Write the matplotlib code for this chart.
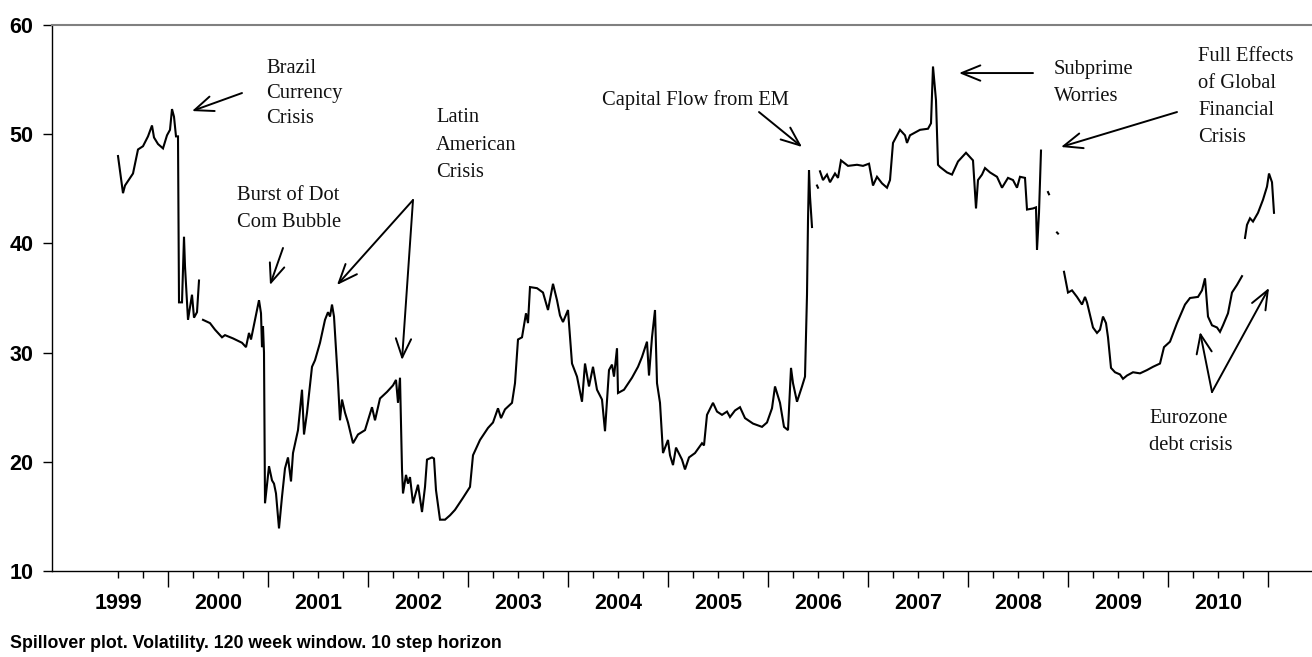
import numpy as np
import matplotlib
matplotlib.use("Agg")
import matplotlib.pyplot as plt
import matplotlib.transforms as mtransforms
from matplotlib import font_manager

nan = np.nan

# weekly spillover index (decimal year, value); nan = gap in the series
dates = [
    1999.50, 1999.55, 1999.57, 1999.65, 1999.70, 1999.75, 1999.80, 1999.84, 1999.86, 1999.90,
    1999.95, 1999.99, 2000.02, 2000.04, 2000.06, 2000.08, 2000.10, 2000.11, 2000.14, 2000.16,
    2000.17, 2000.20, 2000.24, 2000.26, 2000.29, 2000.31, 2000.33,
    2000.35, 2000.42, 2000.47, 2000.54, 2000.57, 2000.65, 2000.74, 2000.78, 2000.81, 2000.83,
    2000.87, 2000.91, 2000.93, 2000.94, 2000.95, 2000.96, 2000.97, 2001.01, 2001.04, 2001.06,
    2001.08, 2001.11, 2001.14, 2001.17, 2001.20, 2001.23, 2001.25, 2001.30, 2001.34, 2001.36,
    2001.39, 2001.44, 2001.47, 2001.52, 2001.57, 2001.60, 2001.62, 2001.64, 2001.66, 2001.70,
    2001.72, 2001.74, 2001.77, 2001.80, 2001.85, 2001.90, 2001.97, 2002.04, 2002.07, 2002.12,
    2002.19, 2002.25, 2002.28, 2002.30, 2002.32, 2002.34, 2002.35, 2002.38, 2002.40, 2002.42,
    2002.45, 2002.50, 2002.54, 2002.57, 2002.59, 2002.64, 2002.66, 2002.68, 2002.72, 2002.77,
    2002.82, 2002.87, 2002.95, 2003.02, 2003.05, 2003.12, 2003.20, 2003.25, 2003.30, 2003.33,
    2003.37, 2003.44, 2003.47, 2003.50, 2003.54, 2003.58, 2003.60, 2003.62, 2003.69, 2003.75,
    2003.80, 2003.85, 2003.89, 2003.92, 2003.95, 2004.00, 2004.04, 2004.09, 2004.14, 2004.17,
    2004.21, 2004.25, 2004.29, 2004.34, 2004.37, 2004.41, 2004.44, 2004.46, 2004.49, 2004.50,
    2004.56, 2004.64, 2004.70, 2004.74, 2004.79, 2004.81, 2004.84, 2004.87, 2004.89, 2004.92,
    2004.95, 2005.00, 2005.02, 2005.05, 2005.08, 2005.14, 2005.17, 2005.21, 2005.27, 2005.34,
    2005.36, 2005.39, 2005.45, 2005.49, 2005.54, 2005.59, 2005.62, 2005.67, 2005.72, 2005.77,
    2005.85, 2005.94, 2005.99, 2006.04, 2006.07, 2006.10, 2006.12, 2006.16, 2006.20, 2006.23,
    2006.25, 2006.29, 2006.34, 2006.37, 2006.39, 2006.40, 2006.41, 2006.42, 2006.44, 2006.46,
    2006.49, 2006.50, 2006.51,
    2006.52, 2006.55, 2006.59, 2006.62, 2006.67, 2006.70, 2006.73, 2006.80, 2006.89, 2006.95,
    2007.01, 2007.05, 2007.09, 2007.14, 2007.19, 2007.22, 2007.25, 2007.32, 2007.37, 2007.39,
    2007.42, 2007.52, 2007.60, 2007.63, 2007.65, 2007.68, 2007.70, 2007.72, 2007.79, 2007.84,
    2007.90, 2007.98, 2008.02, 2008.05, 2008.08, 2008.10, 2008.14, 2008.17, 2008.22, 2008.29,
    2008.34, 2008.40, 2008.45, 2008.49, 2008.52, 2008.57, 2008.59, 2008.65, 2008.68, 2008.69,
    2008.71, 2008.73, 2008.76,
    2008.80, 2008.81, 2008.84,
    2008.89, 2008.90, 2008.93,
    2008.96, 2009.00, 2009.04, 2009.09, 2009.14, 2009.17, 2009.19, 2009.25, 2009.29, 2009.32,
    2009.35, 2009.38, 2009.40, 2009.43, 2009.47, 2009.52, 2009.55, 2009.59, 2009.65, 2009.72,
    2009.79, 2009.85, 2009.92, 2009.96, 2010.02, 2010.09, 2010.17, 2010.22, 2010.30, 2010.34,
    2010.37, 2010.40, 2010.44, 2010.49, 2010.52, 2010.55, 2010.60, 2010.64, 2010.69, 2010.74,
    2010.755,
    2010.77, 2010.79, 2010.82, 2010.85, 2010.90, 2010.95, 2010.99, 2011.01, 2011.04, 2011.06,
]
spillover = [
    48.0, 44.6, 45.3, 46.4, 48.6, 48.9, 49.8, 50.8, 49.7, 49.1,
    48.7, 49.9, 50.4, 52.3, 51.6, 49.8, 49.8, 34.6, 34.6, 40.6,
    37.9, 33.0, 35.3, 33.2, 33.7, 36.6, nan,
    33.0, 32.7, 32.1, 31.4, 31.6, 31.3, 30.9, 30.5, 31.8, 31.2,
    33.0, 34.8, 33.6, 30.5, 32.4, 30.0, 16.2, 19.6, 18.3, 18.0,
    17.1, 13.9, 16.8, 19.4, 20.4, 18.2, 20.8, 22.9, 26.6, 22.5,
    24.5, 28.7, 29.3, 30.9, 33.0, 33.7, 33.3, 34.4, 33.3, 27.3,
    23.8, 25.7, 24.5, 23.6, 21.7, 22.5, 22.9, 25.0, 23.8, 25.8,
    26.4, 27.0, 27.5, 25.4, 27.7, 19.3, 17.1, 18.8, 18.0, 18.6,
    16.2, 17.9, 15.4, 17.7, 20.2, 20.4, 20.3, 17.4, 14.7, 14.7,
    15.1, 15.6, 16.7, 17.7, 20.6, 22.0, 23.1, 23.6, 24.9, 24.0,
    24.8, 25.4, 27.2, 31.2, 31.4, 33.6, 32.7, 36.0, 35.9, 35.5,
    33.9, 36.3, 34.8, 33.4, 32.8, 33.9, 29.0, 27.8, 25.5, 29.0,
    26.9, 28.7, 26.6, 25.7, 22.8, 28.4, 28.9, 27.8, 30.4, 26.3,
    26.6, 27.7, 28.7, 29.6, 31.0, 27.9, 31.4, 33.9, 27.2, 25.4,
    20.8, 22.0, 20.6, 19.7, 21.3, 20.2, 19.3, 20.4, 20.8, 21.7,
    21.5, 24.3, 25.4, 24.6, 24.3, 24.6, 24.1, 24.7, 25.0, 24.0,
    23.5, 23.2, 23.6, 24.9, 26.9, 26.0, 25.4, 23.2, 22.9, 28.6,
    27.2, 25.5, 26.9, 27.8, 35.3, 42.1, 46.7, 44.3, 41.5, nan,
    45.3, 45.1, nan,
    46.6, 45.8, 46.3, 45.6, 46.4, 46.0, 47.6, 47.1, 47.2, 47.1,
    47.3, 45.3, 46.1, 45.5, 45.1, 45.8, 49.2, 50.4, 49.9, 49.2,
    49.9, 50.4, 50.5, 51.0, 56.2, 53.1, 47.2, 47.0, 46.5, 46.3,
    47.5, 48.3, 47.9, 47.6, 43.2, 45.8, 46.3, 46.9, 46.5, 46.1,
    45.1, 46.0, 45.8, 45.1, 46.1, 46.0, 43.1, 43.2, 43.3, 39.4,
    42.8, 48.5, nan,
    44.7, 44.5, nan,
    41.0, 40.9, nan,
    37.4, 35.5, 35.7, 35.1, 34.4, 35.1, 34.6, 32.3, 31.8, 32.1,
    33.3, 32.7, 31.4, 28.6, 28.2, 28.0, 27.6, 27.9, 28.2, 28.1,
    28.4, 28.7, 29.0, 30.5, 31.0, 32.7, 34.4, 35.0, 35.1, 35.7,
    36.8, 33.3, 32.5, 32.3, 31.9, 32.5, 33.6, 35.5, 36.2, 37.0,
    nan,
    40.5, 41.7, 42.3, 42.0, 42.8, 44.0, 45.2, 46.4, 45.6, 42.8,
]

years = list(range(1999, 2011))
y_ticks = [10, 20, 30, 40, 50, 60]
caption = "Spillover plot. Volatility. 120 week window. 10 step horizon"

# (text, text position, arrow tails -> heads, linespacing)
notes = [
    ("Brazil\nCurrency\nCrisis", (2000.98, 56.9), [((2000.74, 53.77), (2000.24, 52.12))], 1.42),
    ("Burst of Dot\nCom Bubble", (2000.69, 45.25), [((2001.15, 39.58), (2001.02, 36.19))], 1.55),
    ("Latin\nAmerican\nCrisis", (2002.68, 52.4), [((2002.45, 43.97), (2001.69, 36.19)),
                                                  ((2002.45, 43.97), (2002.34, 29.32))], 1.62),
    ("Capital Flow from EM", (2004.34, 54.0), [((2005.91, 52.03), (2006.34, 48.83))], 1.5),
    ("Subprime\nWorries", (2008.86, 56.75), [((2008.65, 55.60), (2007.91, 55.60))], 1.55),
    ("Full Effects\nof Global\nFinancial\nCrisis", (2010.30, 57.95),
     [((2010.09, 52.03), (2008.93, 48.83))], 1.57),
    ("Eurozone\ndebt crisis", (2009.81, 24.8), [((2010.44, 26.39), (2010.32, 31.89)),
                                                ((2010.44, 26.39), (2011.01, 35.92))], 1.55),
]

installed = {f.name for f in font_manager.fontManager.ttflist}
sans = "Liberation Sans Narrow" if "Liberation Sans Narrow" in installed else "Liberation Sans"
narrow = [sans, "DejaVu Sans"]
serif = ["Liberation Serif", "DejaVu Serif"]
tick_size = 16.5 if sans.endswith("Narrow") else 15.5
cap_size = 15 if sans.endswith("Narrow") else 12.8

fig = plt.figure(figsize=(13.12, 6.57), dpi=100)
ax = fig.add_axes([52 / 1312, 1 - 571 / 657, 1 - 52 / 1312, (571 - 25) / 657])

ax.plot(dates, spillover, color="black", lw=1.5, solid_joinstyle="miter")

ax.set_xlim(1998.84, 2011.44)
ax.set_ylim(10, 60)

ax.spines["right"].set_visible(False)
ax.spines["top"].set_color("#808080")
ax.spines["top"].set_linewidth(1.5)
ax.spines["left"].set_linewidth(1.0)
ax.spines["bottom"].set_linewidth(1.0)

ax.set_yticks(y_ticks)
ax.set_yticklabels([str(v) for v in y_ticks], fontfamily=narrow, fontweight="bold", fontsize=tick_size)
ax.tick_params(axis="y", direction="out", length=6.5, width=1.0, pad=7)

# long ticks at year boundaries, short ticks each quarter
ax.set_xticks([y + 1 for y in years])
ax.set_xticks([y + q for y in years for q in (0.5, 0.75, 1.25) if y + q < 2011.1], minor=True)
ax.tick_params(axis="x", which="major", direction="out", length=11.5, width=1.0, labelbottom=False)
ax.tick_params(axis="x", which="minor", direction="out", length=5, width=1.0)

trans = mtransforms.blended_transform_factory(ax.transData, ax.transAxes)
for y in years:
    ax.text(y + 0.5, -0.041, str(y), transform=trans, ha="center", va="top",
            fontfamily=narrow, fontweight="bold", fontsize=tick_size)

for text, pos, arrows, ls in notes:
    ax.text(pos[0], pos[1], text, ha="left", va="top", fontfamily=serif,
            fontsize=14.8, linespacing=ls, color="#111111")
    for tail, head in arrows:
        ax.annotate("", xy=head, xytext=tail,
                    arrowprops=dict(arrowstyle="->,head_length=1.35,head_width=0.55",
                                    color="black", lw=1.4, shrinkA=0, shrinkB=0))

fig.text(10 / 1312, 1 - 643 / 657, caption, ha="left", va="center",
         fontfamily=narrow, fontweight="bold", fontsize=cap_size)

fig.savefig("out.png", dpi=100)
